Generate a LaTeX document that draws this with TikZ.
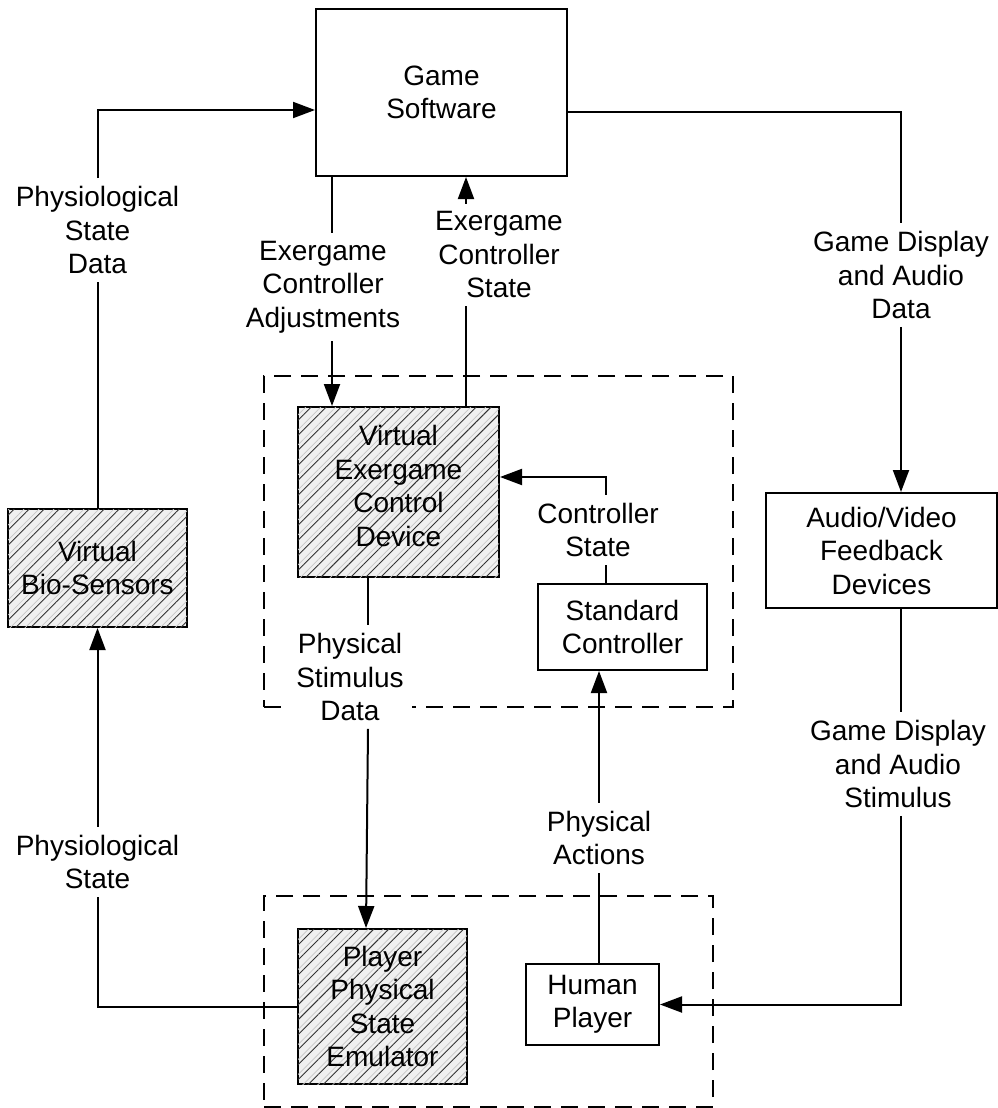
\documentclass[tikz,border=0pt]{standalone}
\usepackage{fontspec}
\setmainfont{Liberation Sans}
\usetikzlibrary{arrows.meta,patterns.meta}
\begin{document}
\begin{tikzpicture}[x=1pt,y=-1pt,
  every node/.style={font=\fontsize{28}{33.5}\selectfont, align=center},
  box/.style={draw, line width=2pt, inner sep=0pt},
  hatch/.style={box, fill=black!6,
    postaction={pattern={Lines[angle=45,distance=10.6pt,line width=0.7pt,yshift=5.3pt]}, pattern color=black!22},
    postaction={pattern={Lines[angle=45,distance=10.6pt,line width=0.9pt]}, pattern color=black!80}},
  lbl/.style={inner sep=8pt},
  wire/.style={line width=2pt},
  arr/.style={wire, -{Triangle[length=22pt,width=16pt]}},
  grp/.style={draw, dash pattern=on 17pt off 10pt, line width=2pt, inner sep=0pt}
]
\useasboundingbox (0,0) rectangle (998,1108);

% dashed groups
\node[grp, minimum width=469pt, minimum height=331pt] (grpA) at (498.5,541.5) {};
\node[grp, minimum width=449pt, minimum height=211pt] (grpB) at (488.5,1001.5) {};

% boxes
\node[box, minimum width=251pt, minimum height=167pt] (gs) at (441.5,92.5) {Game\\Software};
\node[hatch, minimum width=201pt, minimum height=170pt, text depth=12pt] (vecd) at (398.5,492) {Virtual\\Exergame\\Control\\Device};
\node[hatch, minimum width=179pt, minimum height=118pt] (bio) at (97.5,568) {Virtual\\Bio-Sensors};
\node[box, minimum width=231pt, minimum height=115pt] (av) at (881.5,550.5) {Audio/Video\\Feedback\\Devices};
\node[box, minimum width=169pt, minimum height=86pt] (sc) at (622.5,627) {Standard\\Controller};
\node[hatch, minimum width=169pt, minimum height=155pt] (em) at (382.5,1006.5) {Player\\Physical\\State\\Emulator};
\node[box, minimum width=133pt, minimum height=81pt] (hp) at (592.5,1004.5) {Human\\Player};

% labels
\node[lbl] (lPSD) at (97.5,230) {Physiological\\State\\Data};
\node[lbl] (lECA) at (323,287) {Exergame\\Controller\\Adjustments};
\node[lbl] (lECS) at (499,255) {Exergame\\Controller\\State};
\node[lbl] (lGDA) at (901,275) {Game Display\\and Audio\\Data};
\node[lbl] (lCS) at (598,530) {Controller\\State};
\node[lbl, fill=white] (lPSt) at (350,677) {Physical\\Stimulus\\Data};
\node[lbl] (lPA) at (599,838) {Physical\\Actions};
\node[lbl] (lGDS) at (898,764) {Game Display\\and Audio\\Stimulus};
\node[lbl] (lPS) at (97.5,862) {Physiological\\State};

% connectors
\draw[wire] (bio.north) -- (lPSD.south);
\draw[arr] (lPSD.north) |- ([yshift=-17.5pt]gs.west);

\draw[wire] ([xshift=-109.5pt]gs.south) -- ([xshift=-109.5pt]gs.south |- lECA.north);
\draw[arr] ([xshift=-109.5pt]gs.south |- lECA.south) -- ([xshift=-66.5pt]vecd.north);

\draw[wire] ([xshift=67.5pt]vecd.north) -- ([xshift=67.5pt]vecd.north |- lECS.south);
\draw[arr] ([xshift=67.5pt]vecd.north |- lECS.north) -- ([xshift=67.5pt]vecd.north |- gs.south);

\draw[wire] ([yshift=-19.5pt]gs.east) -| (lGDA.north);
\draw[arr] (lGDA.south) -- ([xshift=19.5pt]av.north);

\draw[wire] ([xshift=19.5pt]av.south) -- ([xshift=19.5pt]av.south |- lGDS.north);
\draw[arr] ([xshift=19.5pt]av.south |- lGDS.south) |- (hp.east);

\draw[wire] ([xshift=-16.5pt]sc.north) -- ([xshift=-16.5pt]sc.north |- lCS.south);
\draw[arr] ([xshift=-16.5pt]sc.north |- lCS.north) |- ([yshift=15pt]vecd.east);

\draw[wire] ([xshift=-30.5pt]vecd.south) -- ([xshift=-30.5pt]vecd.south |- lPSt.north);
\draw[arr] ([xshift=-30.5pt]vecd.south |- lPSt.south) -- ([xshift=-16.5pt]em.north);

\draw[wire] ([xshift=6.5pt]hp.north) -- ([xshift=6.5pt]hp.north |- lPA.south);
\draw[arr] ([xshift=6.5pt]hp.north |- lPA.north) -- ([xshift=-23.5pt]sc.south);

\draw[wire] (em.west) -| (lPS.south);
\draw[arr] (lPS.north) -- (bio.south);
\end{tikzpicture}
\end{document}
